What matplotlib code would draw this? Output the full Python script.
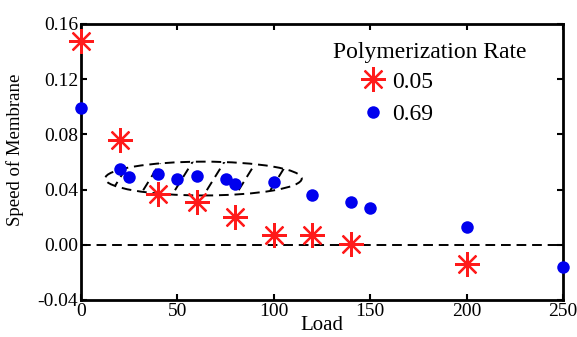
import matplotlib
matplotlib.use("Agg")
import matplotlib.pyplot as plt
import numpy as np
from matplotlib.patches import Ellipse

plt.rcParams['font.family'] = ['Liberation Serif', 'DejaVu Serif']

load_a = [0, 20, 40, 60, 80, 100, 120, 140, 200]
speed_a = [0.148, 0.076, 0.037, 0.031, 0.020, 0.007, 0.007, 0.0005, -0.014]

load_b = [0, 20, 25, 40, 50, 60, 75, 80, 100, 120, 140, 150, 200, 250]
speed_b = [0.099, 0.055, 0.049, 0.051, 0.048, 0.050, 0.0475, 0.044, 0.0455,
           0.036, 0.031, 0.027, 0.013, -0.016]

xticks = [0, 50, 100, 150, 200, 250]
yticks = [-0.04, 0.0, 0.04, 0.08, 0.12, 0.16]

fig = plt.figure(figsize=(5.77, 3.37), dpi=100)
ax = fig.add_axes([0.1404, 0.1098, 0.8353, 0.819])

dash = (0, (5, 3))
ax.axhline(0, color='black', ls=dash, lw=1.4, zorder=1)

# dashed ellipse with dashed diagonal hatching
ec, ew, eh = (63.5, 0.048), 102, 0.0245
ell = Ellipse(ec, ew, eh, fill=False, ec='black', ls=dash, lw=1.4, zorder=2)
ax.add_patch(ell)
clip = Ellipse(ec, ew, eh, fill=False, ec='none', transform=ax.transData)
ax.add_patch(clip)
for xc in [20, 36, 52.5, 69, 85.5, 102]:
    ln, = ax.plot([xc - 8, xc + 8], [0.030, 0.066], color='black',
                  ls=dash, lw=1.4, zorder=2)
    ln.set_clip_path(clip)

ax.plot(load_a, speed_a, ls='none', marker=(8, 2, 0), ms=18, mew=1.6,
        color='#ff1a1a', label='0.05', zorder=3, clip_on=False)
ax.plot(load_b, speed_b, ls='none', marker='o', ms=9, mew=0,
        color='#0000ee', label='0.69', zorder=3, clip_on=False)

ax.set_xlim(0, 250)
ax.set_ylim(-0.04, 0.16)
ax.set_xticks(xticks)
ax.set_yticks(yticks)
ax.set_yticklabels([f"{v:.2f}" for v in yticks])
ax.tick_params(direction='in', top=True, right=True, labelsize=14,
               length=4, width=1.5, pad=2)
for s in ax.spines.values():
    s.set_linewidth(2)

ax.set_xlabel('Load', fontsize=15, labelpad=-3)
ax.set_ylabel('Speed of Membrane', fontsize=13.5)
ax.yaxis.set_label_coords(-0.118, 0.545)

ax.text(0.523, 0.897, 'Polymerization Rate', transform=ax.transAxes,
        fontsize=17, ha='left', va='center')
leg = ax.legend(loc='upper left', frameon=False, fontsize=17,
                bbox_to_anchor=(0.581, 0.829), handletextpad=0.3,
                labelspacing=0.47, borderaxespad=0.0, borderpad=0.0,
                handlelength=1.0)

fig.savefig('out.png', dpi=100)
